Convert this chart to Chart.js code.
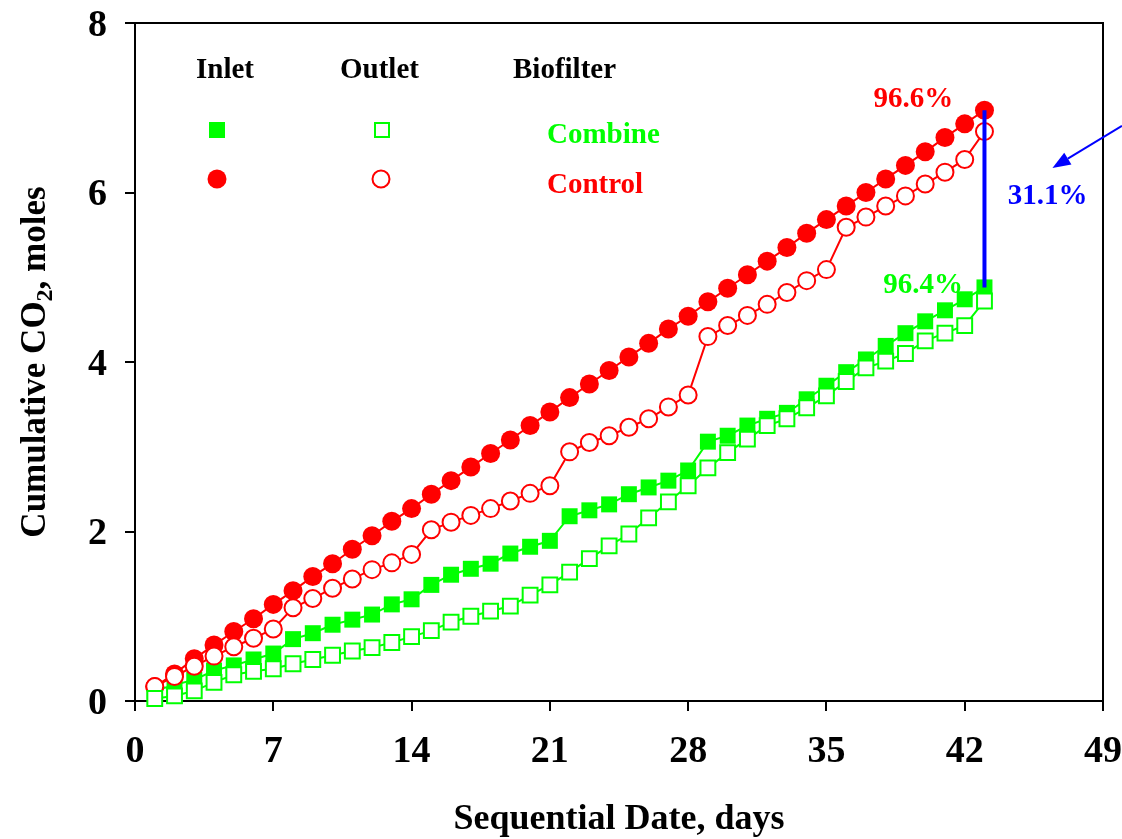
<!DOCTYPE html>
<html><head><meta charset="utf-8">
<script src="https://cdn.jsdelivr.net/npm/chart.js@4/dist/chart.umd.min.js"></script>
<style>html,body{margin:0;padding:0;background:#fff}#wrap{width:1122px;height:839px;position:relative}</style>
</head><body><div id="wrap"><canvas id="c" width="1122" height="839"></canvas></div>
<script>
const days = [1,2,3,4,5,6,7,8,9,10,11,12,13,14,15,16,17,18,19,20,21,22,23,24,25,26,27,28,29,30,31,32,33,34,35,36,37,38,39,40,41,42,43];
const inletControl = [0.17,0.32,0.50,0.66,0.82,0.97,1.14,1.30,1.47,1.62,1.79,1.95,2.12,2.27,2.44,2.60,2.76,2.92,3.08,3.25,3.41,3.58,3.74,3.90,4.06,4.22,4.39,4.54,4.71,4.87,5.03,5.19,5.35,5.52,5.68,5.84,6.00,6.16,6.32,6.48,6.65,6.81,6.97];
const outletControl = [0.17,0.29,0.41,0.53,0.64,0.74,0.85,1.10,1.21,1.33,1.44,1.55,1.63,1.73,2.02,2.11,2.19,2.27,2.36,2.45,2.54,2.94,3.05,3.13,3.23,3.33,3.47,3.61,4.30,4.43,4.55,4.68,4.82,4.96,5.09,5.59,5.71,5.84,5.96,6.10,6.24,6.39,6.72];
const inletCombine = [0.12,0.19,0.25,0.36,0.42,0.49,0.56,0.73,0.80,0.90,0.96,1.02,1.14,1.20,1.37,1.49,1.56,1.62,1.74,1.82,1.89,2.18,2.25,2.32,2.44,2.52,2.60,2.72,3.06,3.13,3.25,3.33,3.40,3.56,3.72,3.88,4.03,4.19,4.34,4.48,4.61,4.74,4.88];
const outletCombine = [0.03,0.06,0.12,0.22,0.31,0.35,0.38,0.44,0.49,0.54,0.59,0.63,0.69,0.76,0.83,0.93,1.00,1.06,1.12,1.25,1.37,1.52,1.68,1.83,1.97,2.16,2.35,2.54,2.75,2.93,3.09,3.25,3.33,3.46,3.60,3.77,3.93,4.01,4.10,4.25,4.34,4.43,4.72];
const xTicks = [0,7,14,21,28,35,42,49];
const yTicks = [0,2,4,6,8];
const removalLabels = ['96.6%','96.4%','31.1%'];

const FONT = "'Liberation Serif','Times New Roman',serif";
const RED = '#ff0000', GREEN = '#00ff00', BLUE = '#0000ff';
const pts = arr => days.map((d,i)=>({x:d,y:arr[i]}));

const decor = {
  id:'decor',
  beforeDatasetsDraw(chart){
    const {ctx, chartArea:a} = chart;
    ctx.save();
    ctx.strokeStyle='#000'; ctx.lineWidth=2;
    ctx.beginPath();
    ctx.moveTo(a.left, a.top); ctx.lineTo(a.right, a.top); ctx.lineTo(a.right, a.bottom);
    ctx.stroke();
    ctx.restore();
  },
  afterDatasetsDraw(chart){
    const {ctx} = chart;
    const xs = chart.scales.x, ys = chart.scales.y;
    const n = days.length-1;
    ctx.save();
    const bx = xs.getPixelForValue(days[n]);
    ctx.strokeStyle = BLUE; ctx.lineWidth = 4;
    ctx.beginPath();
    ctx.moveTo(bx, ys.getPixelForValue(inletControl[n]));
    ctx.lineTo(bx, ys.getPixelForValue(inletCombine[n]));
    ctx.stroke();
    const ax0 = xs.getPixelForValue(49.96), ay0 = ys.getPixelForValue(6.785);
    const ax1 = xs.getPixelForValue(46.44), ay1 = ys.getPixelForValue(6.29);
    const ang = Math.atan2(ay1-ay0, ax1-ax0);
    const hl = 18, hw = 7;
    const bxh = ax1 - hl*Math.cos(ang), byh = ay1 - hl*Math.sin(ang);
    ctx.lineWidth = 2;
    ctx.beginPath(); ctx.moveTo(ax0, ay0); ctx.lineTo(bxh, byh); ctx.stroke();
    ctx.fillStyle = BLUE;
    ctx.beginPath();
    ctx.moveTo(ax1, ay1);
    ctx.lineTo(bxh + hw*Math.sin(ang), byh - hw*Math.cos(ang));
    ctx.lineTo(bxh - hw*Math.sin(ang), byh + hw*Math.cos(ang));
    ctx.closePath(); ctx.fill();
    ctx.font = 'bold 29px ' + FONT;
    ctx.textAlign = 'center'; ctx.textBaseline = 'alphabetic';
    ctx.fillStyle = RED;   ctx.fillText(removalLabels[0], xs.getPixelForValue(39.4), ys.getPixelForValue(7.01));
    ctx.fillStyle = GREEN; ctx.fillText(removalLabels[1], xs.getPixelForValue(39.9), ys.getPixelForValue(4.82));
    ctx.fillStyle = BLUE;  ctx.fillText(removalLabels[2], xs.getPixelForValue(46.2), ys.getPixelForValue(5.87));
    ctx.restore();
  },
  afterDraw(chart){
    const {ctx} = chart;
    ctx.save();
    ctx.font = 'bold 29px ' + FONT;
    ctx.textAlign = 'left'; ctx.textBaseline = 'alphabetic';
    ctx.fillStyle = '#000';
    ctx.fillText('Inlet', 196, 78);
    ctx.fillText('Outlet', 340, 78);
    ctx.fillText('Biofilter', 513, 78);
    ctx.fillStyle = GREEN; ctx.fillText('Combine', 547, 143);
    ctx.fillStyle = RED;   ctx.fillText('Control', 547, 193);
    ctx.fillStyle = GREEN; ctx.fillRect(209, 122, 16, 16);
    ctx.strokeStyle = GREEN; ctx.lineWidth = 2; ctx.fillStyle = '#fff';
    ctx.beginPath(); ctx.rect(375, 123, 14, 14); ctx.fill(); ctx.stroke();
    ctx.fillStyle = RED; ctx.beginPath(); ctx.arc(217, 179, 9.5, 0, Math.PI*2); ctx.fill();
    ctx.strokeStyle = RED; ctx.fillStyle = '#fff';
    ctx.beginPath(); ctx.arc(381, 179, 8.5, 0, Math.PI*2); ctx.fill(); ctx.stroke();
    ctx.fillStyle = '#000';
    ctx.font = 'bold 36px ' + FONT;
    ctx.textAlign = 'center';
    ctx.fillText('Sequential Date, days', 619, 829);
    ctx.translate(45, 362);
    ctx.rotate(-Math.PI/2);
    const big = 'bold 35px ' + FONT, small = 'bold 24px ' + FONT;
    const p1 = 'Cumulative CO', p2 = '2', p3 = ', moles';
    ctx.font = big; const w1 = ctx.measureText(p1).width, w3 = ctx.measureText(p3).width;
    ctx.font = small; const w2 = ctx.measureText(p2).width;
    let x0 = -(w1+w2+w3)/2;
    ctx.textAlign = 'left';
    ctx.font = big; ctx.fillText(p1, x0, 0); x0 += w1;
    ctx.font = small; ctx.fillText(p2, x0, 7); x0 += w2;
    ctx.font = big; ctx.fillText(p3, x0, 0);
    ctx.restore();
  }
};

const zeroPad = s => { s.paddingTop = 0; s.paddingBottom = 0; s.paddingLeft = 0; s.paddingRight = 0; };
const tickFont = {family: FONT, size: 38, weight: 'bold'};
new Chart(document.getElementById('c'), {
  type: 'line',
  data: {
    datasets: [
      {label:'Outlet Combine', data: pts(outletCombine), order:0, borderColor:GREEN, borderWidth:2,
       pointStyle:'rect', pointRadius:10.5, pointBackgroundColor:'#fff', pointBorderColor:GREEN, pointBorderWidth:2, clip:false},
      {label:'Outlet Control', data: pts(outletControl), order:1, borderColor:RED, borderWidth:2,
       pointStyle:'circle', pointRadius:8.5, pointBackgroundColor:'#fff', pointBorderColor:RED, pointBorderWidth:2, clip:false},
      {label:'Inlet Combine', data: pts(inletCombine), order:2, borderColor:GREEN, borderWidth:2,
       pointStyle:'rect', pointRadius:11.3, pointBackgroundColor:GREEN, pointBorderColor:GREEN, pointBorderWidth:0, clip:false},
      {label:'Inlet Control', data: pts(inletControl), order:3, borderColor:RED, borderWidth:2,
       pointStyle:'circle', pointRadius:9.5, pointBackgroundColor:RED, pointBorderColor:RED, pointBorderWidth:0, clip:false}
    ]
  },
  options: {
    responsive:false, animation:false, devicePixelRatio:1,
    layout:{padding:{top:23, right:19, left:0, bottom:0}},
    plugins:{legend:{display:false}, tooltip:{enabled:false}},
    elements:{line:{tension:0}},
    scales:{
      x:{type:'linear', min:0, max:49,
         afterBuildTicks(s){ s.ticks = xTicks.map(v=>({value:v})); },
         ticks:{font:tickFont, color:'#000', padding:18, maxRotation:0, autoSkip:false},
         grid:{drawOnChartArea:false, drawTicks:true, tickLength:10, color:'#000', lineWidth:2},
         border:{display:true, color:'#000', width:2},
         afterFit(s){ s.height = 138; zeroPad(s); }},
      y:{type:'linear', min:0, max:8,
         afterBuildTicks(s){ s.ticks = yTicks.map(v=>({value:v})); },
         ticks:{font:tickFont, color:'#000', padding:18, labelOffset:3},
         grid:{drawOnChartArea:false, drawTicks:true, tickLength:10, color:'#000', lineWidth:2},
         border:{display:true, color:'#000', width:2},
         afterFit(s){ s.width = 135; zeroPad(s); }}
    }
  },
  plugins:[decor]
});
</script></body></html>
